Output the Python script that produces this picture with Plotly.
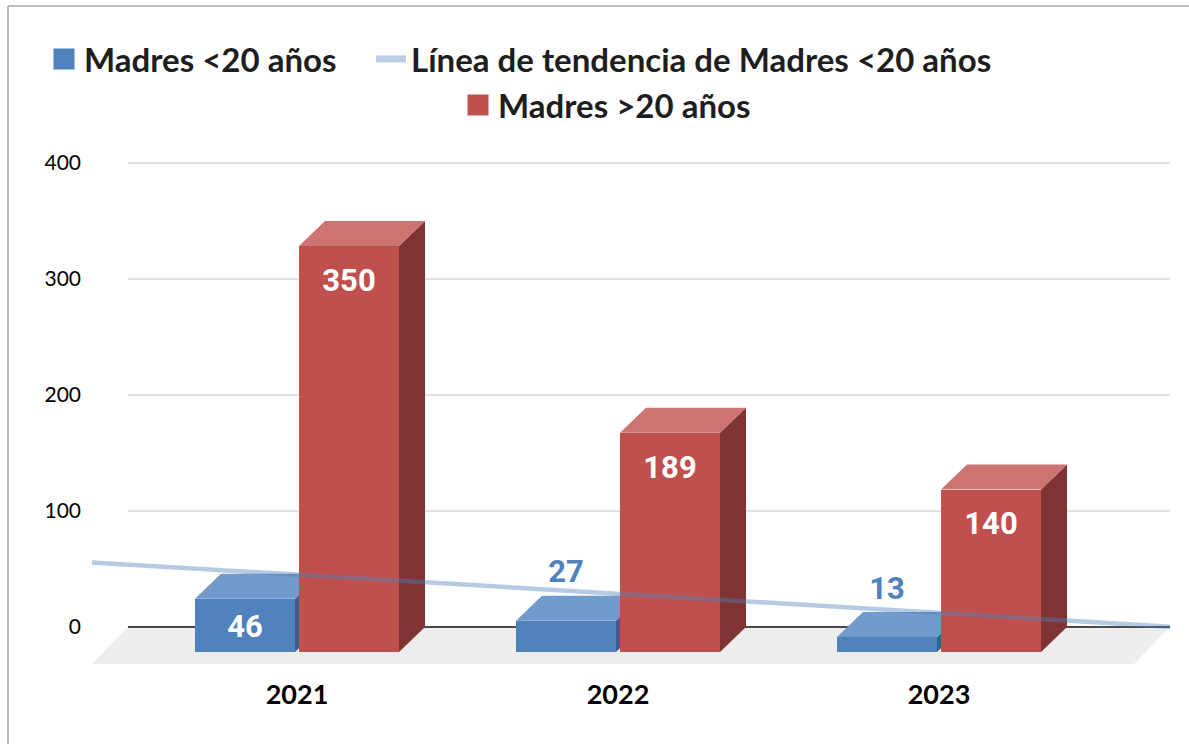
import numpy as np
import plotly.graph_objects as go

# ---------------- data ----------------
years = ["2021", "2022", "2023"]
madres_menor20 = [46, 27, 13]
madres_mayor20 = [350, 189, 140]
y_ticks = [0, 100, 200, 300, 400]
serie_menor = "Madres <20 años"
serie_mayor = "Madres >20 años"
serie_tend = "Línea de tendencia de Madres <20 años"

# ---------------- style / geometry ----------------
PAGE = 0                      # page body margin (set to 0 via post_script)
W, H = 1189, 744
L, R, T, B = 82, 1180, 150, 676   # plot area in screen pixels
PX_CAT = 321.0     # pixels per category step
X0_PX = 297.0      # pixel of first category
Y0_PX = 627.0      # pixel of value 0 (back wall)
PX_UNIT = 1.16     # pixels per unit value


def xu(px):
    return 1 + (px - X0_PX) / PX_CAT


def yu(py):
    return (Y0_PX - py) / PX_UNIT


DX = 26 / PX_CAT           # depth offset (x)
DY = 25 / PX_UNIT          # depth offset (y)
BAR_W = 100 / PX_CAT
OFF_BLUE = -102 / PX_CAT
OFF_RED = 2 / PX_CAT
LBL_SHIFT = 4 / PX_UNIT

BLUE, BLUE_TOP, BLUE_SIDE = "#4F81BD", "#729ACB", "#3A5F8B"
RED, RED_TOP, RED_SIDE = "#C0504D", "#CD7371", "#7F3332"
TREND = "rgba(79,129,189,0.42)"
TREND_LEG = "#B9CDE5"
FLOOR = "#EDEDED"
GRID = "#D9D9D9"

xs = list(range(1, len(years) + 1))


def faces(vals, offset):
    tx, ty, sx, sy = [], [], [], []
    for c, v in zip(xs, vals):
        xl = c + offset
        xr = xl + BAR_W
        ft = v - DY
        tx += [xl, xr, xr + DX, xl + DX, xl, None]
        ty += [ft, ft, v, v, ft, None]
        sx += [xr, xr + DX, xr + DX, xr, xr, None]
        sy += [-DY, 0, v, ft, -DY, None]
    return tx, ty, sx, sy


fig = go.Figure()

# ---- blue series (subplot 1) ----
fig.add_trace(go.Bar(x=xs, y=madres_menor20, base=-DY, width=BAR_W, offset=OFF_BLUE,
                     marker=dict(color=BLUE, line=dict(width=0)), name=serie_menor,
                     showlegend=False, hoverinfo="skip", xaxis="x", yaxis="y"))
tx, ty, sx, sy = faces(madres_menor20, OFF_BLUE)
fig.add_trace(go.Scatter(x=sx, y=sy, fill="toself", fillcolor=BLUE_SIDE, mode="lines",
                         line=dict(width=0, color=BLUE_SIDE), showlegend=False,
                         hoverinfo="skip", xaxis="x", yaxis="y"))
fig.add_trace(go.Scatter(x=tx, y=ty, fill="toself", fillcolor=BLUE_TOP, mode="lines",
                         line=dict(width=0, color=BLUE_TOP), showlegend=False,
                         hoverinfo="skip", xaxis="x", yaxis="y"))

# ---- red series (subplot 2, overlaid on top) ----
fig.add_trace(go.Bar(x=xs, y=madres_mayor20, base=-DY, width=BAR_W, offset=OFF_RED,
                     marker=dict(color=RED, line=dict(width=0)), name=serie_mayor,
                     showlegend=False, hoverinfo="skip", xaxis="x2", yaxis="y2"))
tx, ty, sx, sy = faces(madres_mayor20, OFF_RED)
fig.add_trace(go.Scatter(x=sx, y=sy, fill="toself", fillcolor=RED_SIDE, mode="lines",
                         line=dict(width=0, color=RED_SIDE), showlegend=False,
                         hoverinfo="skip", xaxis="x2", yaxis="y2"))
fig.add_trace(go.Scatter(x=tx, y=ty, fill="toself", fillcolor=RED_TOP, mode="lines",
                         line=dict(width=0, color=RED_TOP), showlegend=False,
                         hoverinfo="skip", xaxis="x2", yaxis="y2"))

# ---- trend line (linear fit of blue series) ----
coef = np.polyfit(xs, madres_menor20, 1)
x_tr = [xu(92), xu(1170)]
y_tr = list(np.polyval(coef, x_tr))
fig.add_trace(go.Scatter(x=x_tr, y=y_tr, mode="lines", line=dict(color=TREND, width=4.5),
                         showlegend=False, hoverinfo="skip", xaxis="x2", yaxis="y2"))

# ---- data labels ----
LBL_FONT = "Roboto"
bx, by, bt, bc = [], [], [], []
for c, v in zip(xs, madres_menor20):
    bx.append(c + OFF_BLUE + BAR_W / 2)
    bt.append(str(v))
    if v * PX_UNIT >= 40:
        by.append(v / 2 - DY - LBL_SHIFT)
        bc.append("white")
    else:
        by.append(v + DY - LBL_SHIFT)
        bc.append(BLUE)
fig.add_trace(go.Scatter(x=bx, y=by, text=bt, mode="text",
                         textfont=dict(family=LBL_FONT, size=31, color=bc, weight="bold"),
                         showlegend=False, hoverinfo="skip", xaxis="x2", yaxis="y2"))
rx = [c + OFF_RED + BAR_W / 2 for c in xs]
ry = [v - DY - 33 / PX_UNIT - LBL_SHIFT for v in madres_mayor20]
fig.add_trace(go.Scatter(x=rx, y=ry, text=[str(v) for v in madres_mayor20], mode="text",
                         textfont=dict(family=LBL_FONT, size=31, color="white", weight="bold"),
                         showlegend=False, hoverinfo="skip", xaxis="x2", yaxis="y2"))

# ---- legend entries ----
fig.add_trace(go.Scatter(x=[None], y=[None], mode="markers", name=serie_menor,
                         marker=dict(symbol="square", size=16, color=BLUE,
                                     line=dict(color=BLUE, width=5)),
                         legend="legend", xaxis="x2", yaxis="y2"))
fig.add_trace(go.Scatter(x=[None], y=[None], mode="lines", name=serie_tend,
                         line=dict(color=TREND_LEG, width=7),
                         legend="legend2", xaxis="x2", yaxis="y2"))
fig.add_trace(go.Scatter(x=[None], y=[None], mode="markers", name=serie_mayor,
                         marker=dict(symbol="square", size=16, color=RED,
                                     line=dict(color=RED, width=5)),
                         legend="legend3", xaxis="x2", yaxis="y2"))

# ---- shapes: floor, gridlines, zero line, border ----
shapes = []
shapes.append(dict(type="path", xref="x", yref="y", layer="below",
                   path=f"M {xu(92)},{yu(664)} L {xu(1134)},{yu(664)} L {xu(1170)},0 L {xu(128)},0 Z",
                   fillcolor=FLOOR, line=dict(width=0)))
for t in y_ticks[1:]:
    shapes.append(dict(type="line", xref="x", yref="y", layer="below",
                       x0=xu(128), x1=xu(1170), y0=t, y1=t,
                       line=dict(color=GRID, width=1.6)))
shapes.append(dict(type="line", xref="x", yref="y", layer="below",
                   x0=xu(128), x1=xu(1170), y0=0, y1=0,
                   line=dict(color="#4A4A4A", width=2.2)))


def px_x(px):
    return (px - L) / (R - L)


def px_y(py):
    return (B - py) / (B - T)


# chart-area border (left and top edges visible)
shapes.append(dict(type="line", xref="paper", yref="paper",
                   x0=px_x(8), x1=px_x(8), y0=px_y(760), y1=px_y(6),
                   line=dict(color="#A6A6A6", width=1.5)))
shapes.append(dict(type="line", xref="paper", yref="paper",
                   x0=px_x(8), x1=px_x(1200), y0=px_y(6), y1=px_y(6),
                   line=dict(color="#A6A6A6", width=1.5)))

xr_range = [xu(L), xu(R)]
yr_range = [yu(B), yu(T)]

LEG_FONT = dict(family="Lato", size=33, color="#1E1E1E", weight="bold")

fig.update_layout(
    width=W, height=H,
    margin=dict(l=L - PAGE, r=W - (R - PAGE), t=T - PAGE, b=H - (B - PAGE)),
    paper_bgcolor="white", plot_bgcolor="rgba(0,0,0,0)",
    barmode="overlay", bargap=0,
    showlegend=True,
    shapes=shapes,
    xaxis=dict(range=xr_range, tickmode="array", tickvals=xs, ticktext=years,
               showgrid=False, zeroline=False, showline=False, ticks="",
               tickfont=dict(family="Lato", size=27, color="#000000", weight="bold"),
               fixedrange=True),
    yaxis=dict(range=yr_range, tickmode="array", tickvals=y_ticks,
               ticktext=[str(v) for v in y_ticks],
               showgrid=False, zeroline=False, showline=False, ticks="",
               tickfont=dict(family="Lato", size=21, color="#000000"),
               fixedrange=True),
    xaxis2=dict(range=xr_range, overlaying="x", visible=False, fixedrange=True),
    yaxis2=dict(range=yr_range, overlaying="y", visible=False, fixedrange=True),
    legend=dict(orientation="h", x=px_x(44), y=px_y(59), xanchor="left", yanchor="middle",
                font=LEG_FONT, bgcolor="rgba(0,0,0,0)"),
    legend2=dict(orientation="h", x=px_x(371), y=px_y(59), xanchor="left", yanchor="middle",
                 font=LEG_FONT, bgcolor="rgba(0,0,0,0)"),
    legend3=dict(orientation="h", x=px_x(458), y=px_y(105), xanchor="left", yanchor="middle",
                 font=LEG_FONT, bgcolor="rgba(0,0,0,0)"),
    hovermode=False,
)

fig.write_html("out.html",
               config={"displayModeBar": False},
               post_script="document.body.style.margin='0';document.body.style.overflow='hidden';")
